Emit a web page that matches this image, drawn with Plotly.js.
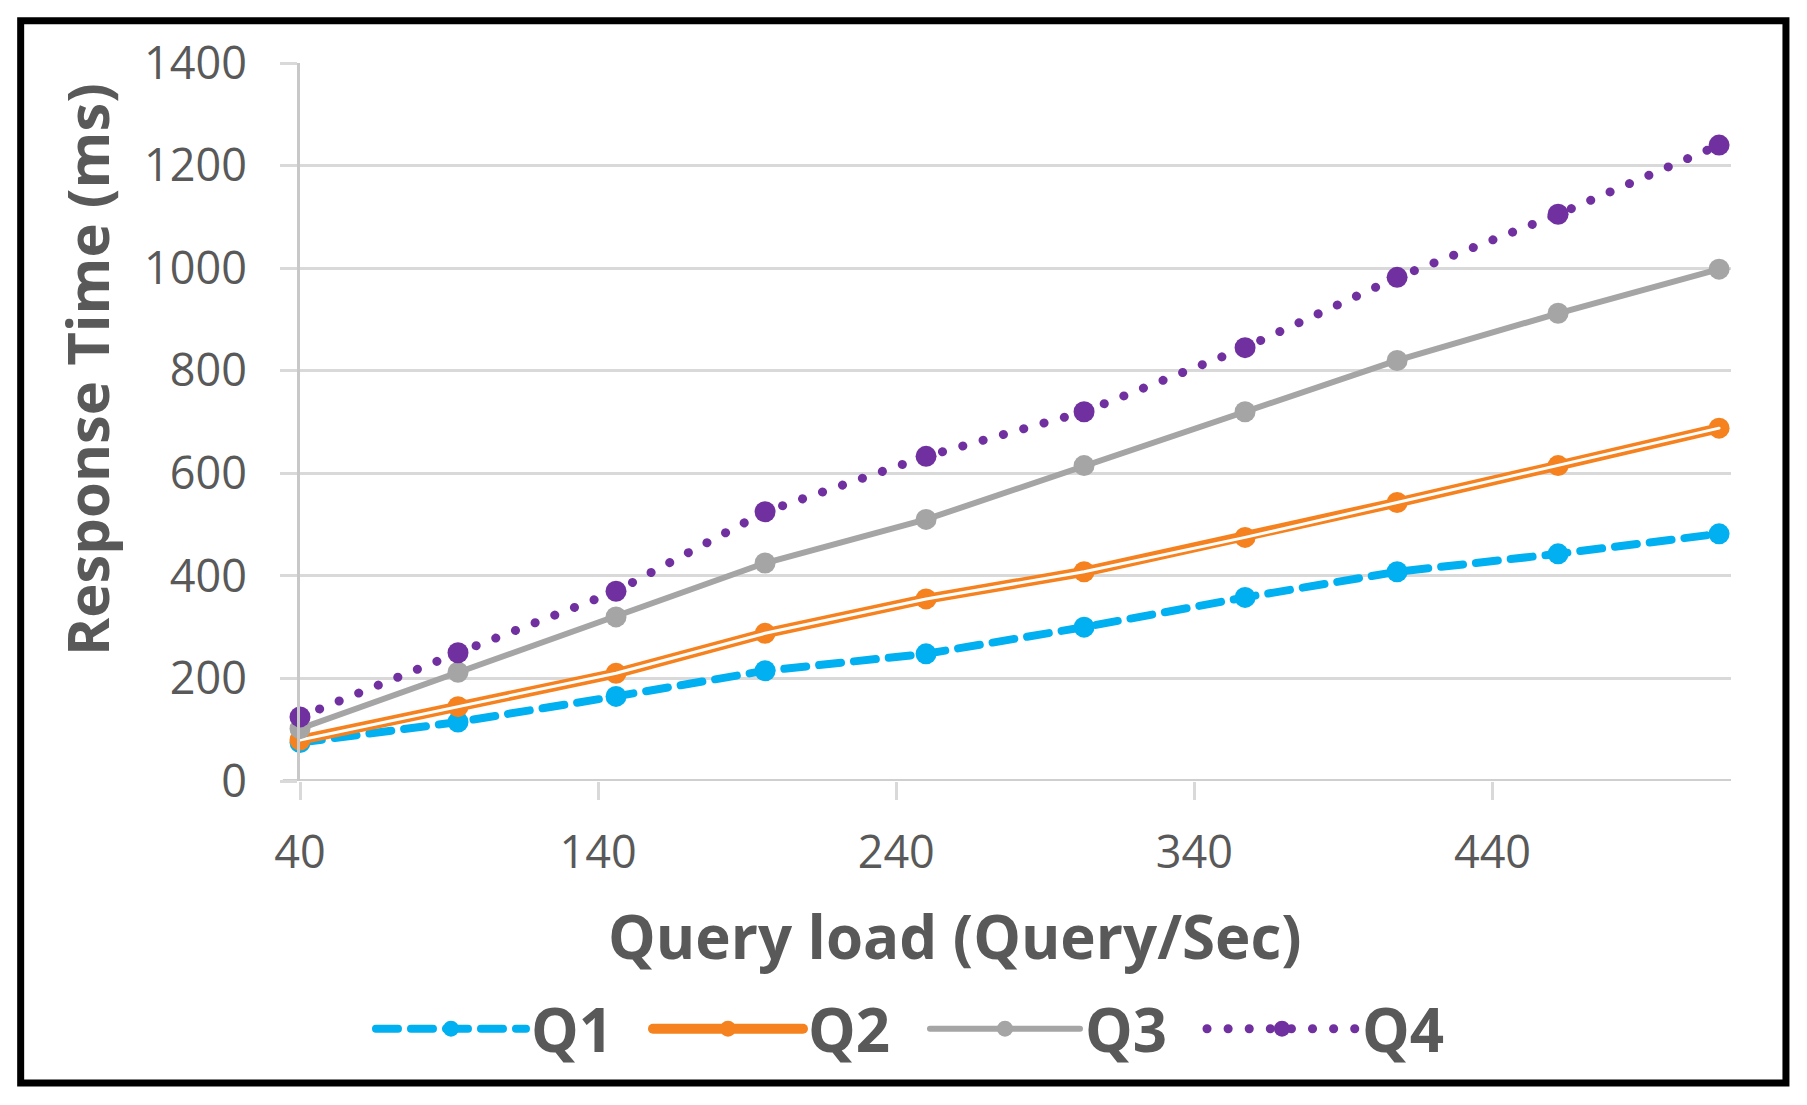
<!DOCTYPE html>
<html>
<head>
<meta charset="utf-8">
<script src="https://cdn.plot.ly/plotly-3.0.1.min.js"></script>
<style>
  body { margin: 0; background: #ffffff; }
  #chart { width: 1807px; height: 1105px; }
  .scatterlayer .js-line, .legendlines path { stroke-linecap: round !important; }
</style>
</head>
<body>
<div id="chart"></div>
<script>
// query load (x) and response time per query type
const queryLoad = [40, 93, 146, 196, 250, 303, 357, 408, 462, 516];
const q1 = [75, 115, 165, 215, 248, 300, 358, 408, 443, 482];
const q2 = [80, 145, 210, 288, 355, 408, 475, 543, 615, 688];
const q3 = [102, 212, 320, 425, 510, 615, 720, 820, 912, 998];
const q4 = [125, 250, 370, 525, 633, 720, 845, 982, 1105, 1240];

const xTicks = [40, 140, 240, 340, 440];
const yTicks = [0, 200, 400, 600, 800, 1000, 1200, 1400];

const textGrey = '#595959';
const gridGrey = '#d9d9d9';

const traceQ1 = {
    x: queryLoad, y: q1, name: 'Q1', type: 'scatter', mode: 'lines+markers',
    line: { color: '#00b0f0', width: 8, dash: '22px,13px' },
    marker: { color: '#00b0f0', size: 21 },
    cliponaxis: false
};
// Q2 is a double line: wide orange with a thin white core
const traceQ2 = {
    x: queryLoad, y: q2, name: 'Q2', type: 'scatter', mode: 'lines+markers',
    line: { color: '#f5821f', width: 10 },
    marker: { color: '#f5821f', size: 21 },
    cliponaxis: false
};
const traceQ2core = {
    x: queryLoad, y: q2, type: 'scatter', mode: 'lines', showlegend: false,
    hoverinfo: 'skip',
    line: { color: '#ffffff', width: 3 }
};
const traceQ3 = {
    x: queryLoad, y: q3, name: 'Q3', type: 'scatter', mode: 'lines+markers',
    line: { color: '#a5a5a5', width: 6 },
    marker: { color: '#a5a5a5', size: 21 },
    cliponaxis: false
};
const traceQ4 = {
    x: queryLoad, y: q4, name: 'Q4', type: 'scatter', mode: 'lines+markers',
    line: { color: '#7030a0', width: 9, dash: '0.1px,21px' },
    marker: { color: '#7030a0', size: 21 },
    cliponaxis: false
};

const layout = {
    width: 1807,
    height: 1105,
    paper_bgcolor: '#ffffff',
    plot_bgcolor: '#ffffff',
    margin: { l: 300, r: 76, t: 63, b: 324 },
    font: { family: 'Open Sans, sans-serif', color: textGrey },
    showlegend: true,
    legend: {
        orientation: 'h',
        x: 0.0496, xanchor: 'left',
        y: -0.345, yanchor: 'middle',
        font: { size: 60, color: textGrey, weight: 'bold' },
        itemwidth: 150,
        entrywidth: 112,
        bgcolor: 'rgba(0,0,0,0)'
    },
    xaxis: {
        range: [40, 520],
        tickvals: xTicks,
        ticktext: xTicks.map(String),
        showgrid: false,
        zeroline: false,
        showline: false,
        ticks: 'outside',
        ticklen: 18,
        tickwidth: 3,
        tickcolor: gridGrey,
        ticklabelstandoff: 14,
        tickfont: { size: 45, color: textGrey }
    },
    yaxis: {
        range: [0, 1400],
        tickvals: yTicks,
        ticktext: yTicks.map(String),
        showgrid: true,
        gridcolor: gridGrey,
        gridwidth: 3,
        zeroline: false,
        showline: true,
        linecolor: '#c8c8c8',
        linewidth: 3,
        ticks: 'outside',
        ticklen: 17,
        tickwidth: 3,
        tickcolor: gridGrey,
        ticklabelstandoff: 24,
        tickfont: { size: 45, color: textGrey }
    },
    annotations: [
        {
            text: 'Response Time (ms)', xref: 'paper', yref: 'paper',
            x: -0.1495, y: 0.5724, textangle: -90, showarrow: false,
            xanchor: 'center', yanchor: 'middle',
            font: { size: 58, color: textGrey, weight: 'bold' }
        },
        {
            text: 'Query load (Query/Sec)', xref: 'paper', yref: 'paper',
            x: 0.4577, y: -0.2159, showarrow: false,
            xanchor: 'center', yanchor: 'middle',
            font: { size: 60, color: textGrey, weight: 'bold' }
        }
    ],
    shapes: [
        // black frame around the whole figure
        {
            type: 'rect', xref: 'paper', yref: 'paper',
            x0: -0.1952, x1: 1.0384, y0: -0.4206, y1: 1.0589,
            line: { color: '#000000', width: 7 }, fillcolor: 'rgba(0,0,0,0)',
            layer: 'above'
        },
        // x-axis baseline at 0
        {
            type: 'line', xref: 'paper', yref: 'y',
            x0: -0.012, x1: 1, y0: 0, y1: 0,
            line: { color: '#cfcfcf', width: 4 }, layer: 'below'
        }
    ]
};

Plotly.newPlot('chart', [traceQ1, traceQ2, traceQ2core, traceQ3, traceQ4], layout,
    { displayModeBar: false, staticPlot: true });
</script>
</body>
</html>
